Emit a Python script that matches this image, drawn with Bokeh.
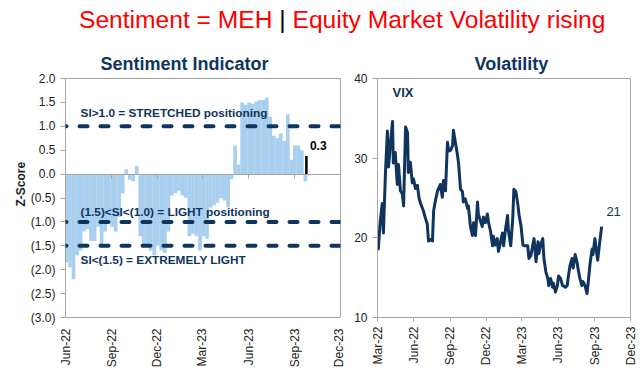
import pandas as pd
from math import pi
from bokeh.plotting import figure
from bokeh.models import (Span, Label, Title, DatetimeAxis, FixedTicker, DatetimeTickFormatter,
                          CustomJSTickFormatter, Div, Range1d)
from bokeh.layouts import column, row
from bokeh.embed import file_html
from bokeh.resources import INLINE

# ---------------- data ----------------
main_title_left = "Sentiment = MEH "
main_title_sep = "|"
main_title_right = " Equity Market Volatility rising"

si_title = "Sentiment Indicator"
si_axis_label = "Z-Score"
si_start = "2022-06-03"          # first weekly observation
si_values = [-1.85, -1.95, -2.2, -1.7, -1.6, -1.2, -1.15, -1.4, -1.4, -1.1,
             -1.5, -1.2, -1.0, -1.1, -1.2, -0.9, -0.4, 0.1, -0.12, -0.15,
             0.17, -1.3, -1.5, -1.5, -1.6, -1.7, -1.5, -1.6, -1.65, -1.2,
             -0.45, -0.4, -0.35, -0.45, -0.5, -1.3, -1.25, -1.3, -1.6, -1.3,
             -1.35, -0.7, -0.65, -0.6, -0.5, -0.55, -0.7, -0.1, 0.6, 0.2,
             1.5, 1.45, 1.5, 1.47, 1.52, 1.55, 1.55, 1.6, 1.2, 0.8,
             0.75, 0.85, 0.7, 1.25, 0.3, 0.6, 0.6, 0.5, -0.15]
si_latest_date = "2023-09-24"
si_latest_value = 0.38
si_latest_label = "0.3"
si_latest_label_pos = ("2023-10-01", 0.6)
si_levels = [1.0, -1.0, -1.5]
si_level_texts = ["SI>1.0 = STRETCHED positioning",
                  "(1.5)<SI<(1.0) = LIGHT positioning",
                  "SI<(1.5) = EXTREMELY LIGHT"]
si_level_text_x = "2022-07-01"
si_level_text_y = [1.27, -0.79, -1.79]
si_x_range = ("2022-06-01", "2023-12-01")
si_y_range = (-3.0, 2.0)
si_x_ticks = ["2022-06-01", "2022-09-01", "2022-12-01", "2023-03-01",
              "2023-06-01", "2023-09-01", "2023-12-01"]
si_y_ticks = [2.0, 1.5, 1.0, 0.5, 0.0, -0.5, -1.0, -1.5, -2.0, -2.5, -3.0]

vix_title = "Volatility"
vix_name = "VIX"
vix_name_pos = ("2022-04-08", 38.2)
vix_last_label = "21"
vix_last_label_pos = ("2023-10-01", 23.3)
vix_dates = ["2022-03-01", "2022-03-03", "2022-03-08", "2022-03-13", "2022-03-16",
             "2022-03-21", "2022-03-26", "2022-03-29", "2022-04-03", "2022-04-08",
             "2022-04-10", "2022-04-15", "2022-04-20", "2022-04-23", "2022-04-28",
             "2022-05-03", "2022-05-06", "2022-05-11", "2022-05-16", "2022-05-18",
             "2022-05-23", "2022-05-28", "2022-05-31", "2022-06-05", "2022-06-10",
             "2022-06-14", "2022-06-18", "2022-06-25", "2022-06-30", "2022-07-05",
             "2022-07-08", "2022-07-13", "2022-07-18", "2022-07-21", "2022-07-26",
             "2022-07-31", "2022-08-07", "2022-08-12", "2022-08-15", "2022-08-20",
             "2022-08-25", "2022-08-28", "2022-09-02", "2022-09-07", "2022-09-09",
             "2022-09-14", "2022-09-19", "2022-09-22", "2022-09-27", "2022-10-02",
             "2022-10-04", "2022-10-09", "2022-10-15", "2022-10-17", "2022-10-22",
             "2022-10-27", "2022-10-30", "2022-11-04", "2022-11-09", "2022-11-11",
             "2022-11-16", "2022-11-21", "2022-11-24", "2022-11-29", "2022-12-04",
             "2022-12-07", "2022-12-12", "2022-12-17", "2022-12-19", "2022-12-24",
             "2022-12-29", "2023-01-01", "2023-01-06", "2023-01-11", "2023-01-14",
             "2023-01-19", "2023-01-24", "2023-01-26", "2023-02-01", "2023-02-06",
             "2023-02-09", "2023-02-14", "2023-02-19", "2023-02-22", "2023-02-27",
             "2023-03-04", "2023-03-06", "2023-03-11", "2023-03-16", "2023-03-19",
             "2023-03-24", "2023-04-01", "2023-04-06", "2023-04-11", "2023-04-13",
             "2023-04-18", "2023-04-23", "2023-04-26", "2023-05-01", "2023-05-06",
             "2023-05-08", "2023-05-13", "2023-05-18", "2023-05-20", "2023-05-25",
             "2023-05-30", "2023-06-02", "2023-06-07", "2023-06-12", "2023-06-14",
             "2023-06-19", "2023-06-24", "2023-06-26", "2023-07-01", "2023-07-06",
             "2023-07-09", "2023-07-14", "2023-07-19", "2023-07-21", "2023-07-26",
             "2023-07-31", "2023-08-03", "2023-08-08", "2023-08-13", "2023-08-16",
             "2023-08-21", "2023-08-26", "2023-08-28", "2023-09-02", "2023-09-07",
             "2023-09-09", "2023-09-14", "2023-09-19"]
vix_values = [19.8, 18.6, 22.1, 24.3, 20.6,
              28.0, 33.4, 28.9, 32.0, 34.6,
              29.4, 30.7, 26.7, 29.2, 25.9,
              25.5, 24.0, 33.9, 33.2, 28.2,
              29.5, 26.9, 27.4, 26.2, 26.6,
              25.0, 24.3, 23.4, 22.5, 21.7,
              19.6, 19.8, 19.6, 23.4, 24.8,
              25.9, 26.7, 25.1, 27.2, 25.9,
              32.0, 30.9, 31.0, 31.6, 33.5,
              32.0, 30.5, 29.4, 26.1, 25.8,
              24.5, 24.9, 23.7, 24.0, 21.5,
              20.3, 21.9, 20.3, 24.5, 23.0,
              22.2, 21.4, 22.6, 21.9, 23.0,
              21.9, 20.8, 19.0, 20.2, 19.1,
              19.9, 18.3, 19.4, 20.6, 19.0,
              21.1, 22.8, 21.0, 19.0, 22.3,
              26.1, 25.8, 24.2, 22.9, 21.5,
              19.1, 19.0, 19.0, 19.0, 17.4,
              17.8, 19.9, 17.0, 19.5, 18.0,
              19.2, 19.9, 17.4, 15.7, 14.9,
              14.0, 14.9, 13.8, 14.3, 13.2,
              14.0, 15.2, 14.9, 14.0, 14.0,
              13.8, 14.0, 14.9, 16.5, 17.4,
              16.2, 17.9, 16.9, 16.2, 14.9,
              14.0, 14.5, 14.0, 13.0, 14.4,
              16.9, 18.6, 17.9, 19.9, 17.9,
              17.2, 19.4, 21.4]
vix_x_range = ("2022-03-01", "2023-12-01")
vix_y_range = (10, 40)
vix_x_ticks = ["2022-03-01", "2022-06-01", "2022-09-01", "2022-12-01", "2023-03-01",
               "2023-06-01", "2023-09-01", "2023-12-01"]
vix_y_ticks = [10, 20, 30, 40]

# ---------------- style ----------------
FONT = "Liberation Sans"
NAVY = "#0f355e"
BAR = "#a9cfee"
GRAY = "#a6a6a6"
TXT = "#222222"
DAY_MS = 86400000


def ts(s):
    return pd.Timestamp(s)


def ms(s):
    return pd.Timestamp(s).value // 10**6


def style_fig(p):
    p.grid.visible = False
    p.outline_line_color = GRAY
    p.outline_line_width = 1
    p.title.text_font = FONT
    p.title.text_font_size = "18px"
    p.title.text_font_style = "bold"
    p.title.text_color = NAVY
    p.title.align = "left"


def style_date_axis(ax, ticks):
    ax.ticker = FixedTicker(ticks=[ms(t) for t in ticks])
    ax.formatter = DatetimeTickFormatter(days="%b-%y", months="%b-%y", years="%b-%y")
    ax.major_label_orientation = pi / 2
    ax.major_label_text_font = FONT
    ax.major_label_text_font_size = "12px"
    ax.major_label_text_color = TXT
    ax.minor_tick_line_color = None


def style_y_axis(ax, ticks):
    ax.ticker = FixedTicker(ticks=ticks)
    ax.major_label_text_font = FONT
    ax.major_label_text_font_size = "12px"
    ax.major_label_text_color = TXT
    ax.axis_line_color = GRAY
    ax.major_tick_line_color = GRAY
    ax.major_tick_out = 5
    ax.major_tick_in = 0
    ax.minor_tick_line_color = None


# ---------------- title ----------------
title_div = Div(
    text=(f'<span style="color:#ff0000">{main_title_left}</span>'
          f'<span style="color:#000000">{main_title_sep}</span>'
          f'<span style="color:#ff0000">{main_title_right}</span>'),
    width=642, height=44, margin=0,
    styles={"font-family": FONT, "font-size": "24.6px", "padding-left": "79px",
            "padding-top": "7px", "line-height": "26px", "white-space": "nowrap",
            "box-sizing": "border-box"})

# ---------------- sentiment chart ----------------
p1 = figure(width=345, height=338, x_axis_type="datetime",
            x_range=Range1d(ts(si_x_range[0]), ts(si_x_range[1])),
            y_range=Range1d(*si_y_range),
            output_backend="svg", toolbar_location=None,
            min_border_left=65, min_border_right=5, min_border_top=32, min_border_bottom=65,
            title=si_title)
style_fig(p1)
p1.title.offset = 35

si_dates = pd.date_range(si_start, periods=len(si_values), freq="7D")
p1.vbar(x=si_dates, top=si_values, bottom=0, width=7.4 * DAY_MS,
        fill_color=BAR, line_color=None)
p1.vbar(x=[ts(si_latest_date)], top=[si_latest_value], bottom=0, width=5 * DAY_MS,
        fill_color="black", line_color=None)

for lvl in si_levels:
    p1.add_layout(Span(location=lvl, dimension="width", line_color=NAVY, line_width=4,
                       line_dash="8 13", line_dash_offset=7, line_cap="round"))

for txt, yy in zip(si_level_texts, si_level_text_y):
    p1.add_layout(Label(x=ms(si_level_text_x), y=yy, text=txt, text_font=FONT,
                        text_font_size="11.8px", text_font_style="bold",
                        text_color=NAVY, text_baseline="middle"))

p1.add_layout(Label(x=ms(si_latest_label_pos[0]), y=si_latest_label_pos[1],
                    text=si_latest_label, text_font=FONT, text_font_size="12px",
                    text_font_style="bold", text_color="black", text_baseline="middle"))

xa = p1.xaxis[0]
style_date_axis(xa, si_x_ticks)
xa.axis_line_color = None
xa.major_tick_line_color = None

zero_axis = DatetimeAxis(fixed_location=0)
zero_axis.ticker = FixedTicker(ticks=[ms(t) for t in si_x_ticks])
zero_axis.major_label_text_alpha = 0
zero_axis.major_label_text_font_size = "1px"
zero_axis.axis_line_color = GRAY
zero_axis.major_tick_line_color = GRAY
zero_axis.major_tick_out = 4
zero_axis.major_tick_in = 0
zero_axis.minor_tick_line_color = None
p1.add_layout(zero_axis, "below")

ya = p1.yaxis[0]
style_y_axis(ya, si_y_ticks)
ya.formatter = CustomJSTickFormatter(
    code="return tick < 0 ? '(' + Math.abs(tick).toFixed(1) + ')' : tick.toFixed(1);")

# y-axis title, placed like the original (left of the tick labels, a bit above centre)
p1.add_layout(Title(text=si_axis_label, align="left", offset=111, standoff=0,
                    text_font=FONT, text_font_size="12px", text_font_style="bold",
                    text_color=TXT), "left")

# ---------------- VIX chart ----------------
p2 = figure(width=297, height=338, x_axis_type="datetime",
            x_range=Range1d(ts(vix_x_range[0]), ts(vix_x_range[1])),
            y_range=Range1d(*vix_y_range),
            output_backend="svg", toolbar_location=None,
            min_border_left=32, min_border_right=12, min_border_top=34, min_border_bottom=65,
            title=vix_title)
style_fig(p2)
p2.title.offset = 97

p2.line(x=[ts(d) for d in vix_dates], y=vix_values, line_color=NAVY, line_width=3,
        line_join="round")

p2.add_layout(Label(x=ms(vix_name_pos[0]), y=vix_name_pos[1], text=vix_name,
                    text_font=FONT, text_font_size="13px", text_font_style="bold",
                    text_color=NAVY, text_baseline="middle"))
p2.add_layout(Label(x=ms(vix_last_label_pos[0]), y=vix_last_label_pos[1],
                    text=vix_last_label, text_font=FONT, text_font_size="13px",
                    text_color=NAVY, text_baseline="middle"))

xb = p2.xaxis[0]
style_date_axis(xb, vix_x_ticks)
xb.axis_line_color = GRAY
xb.major_tick_line_color = GRAY
xb.major_tick_out = 4
xb.major_tick_in = 0

yb = p2.yaxis[0]
style_y_axis(yb, vix_y_ticks)

layout = column(title_div, row(p1, p2))
open("out.html", "w").write(file_html(layout, INLINE))
